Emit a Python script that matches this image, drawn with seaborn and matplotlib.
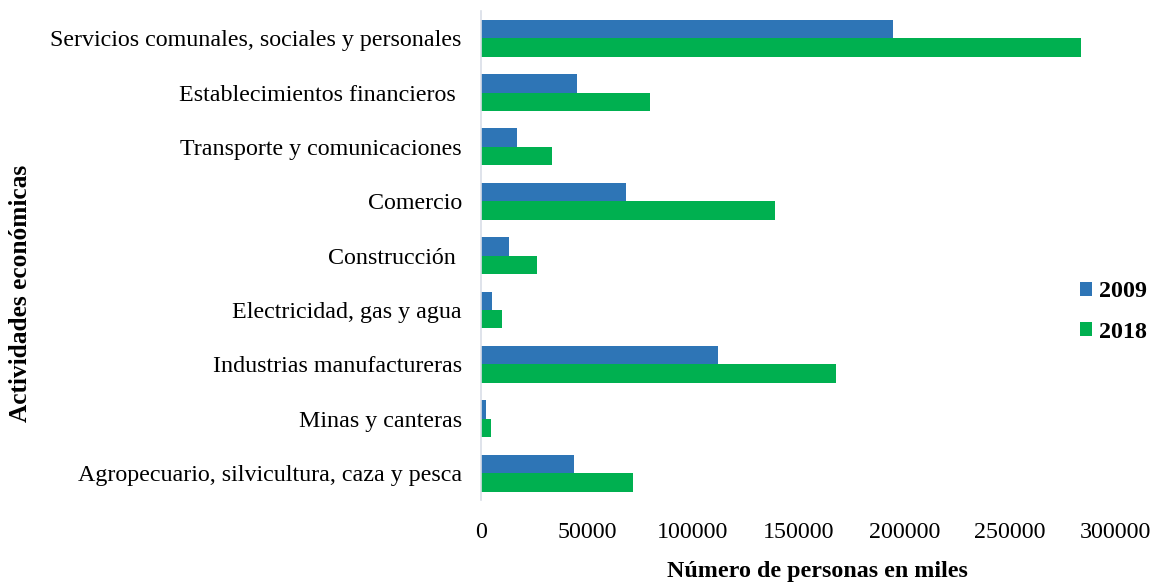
import matplotlib
matplotlib.use("Agg")
import matplotlib.pyplot as plt
import seaborn as sns
import pandas as pd

actividades = [
    "Servicios comunales, sociales y personales",
    "Establecimientos financieros ",
    "Transporte y comunicaciones",
    "Comercio",
    "Construcción ",
    "Electricidad, gas y agua",
    "Industrias manufactureras",
    "Minas y canteras",
    "Agropecuario, silvicultura, caza y pesca",
]
valores_2009 = [194700, 45400, 16800, 68400, 12900, 5300, 112100, 2200, 44000]
valores_2018 = [283500, 79700, 33500, 138700, 26400, 10000, 167900, 4700, 71700]
xticks = [0, 50000, 100000, 150000, 200000, 250000, 300000]

df = pd.DataFrame({
    "actividad": actividades * 2,
    "valor": valores_2009 + valores_2018,
    "anio": ["2009"] * len(actividades) + ["2018"] * len(actividades),
})

sns.set_style("white")
plt.rcParams["font.family"] = ["Liberation Serif", "DejaVu Serif"]
plt.rcParams["text.color"] = "black"
plt.rcParams["xtick.color"] = "black"
plt.rcParams["ytick.color"] = "black"

fs = 17.3
fig, ax = plt.subplots(figsize=(11.54, 5.83), dpi=100)
fig.subplots_adjust(left=0.417, right=0.967, top=0.981, bottom=0.142)

sns.barplot(data=df, y="actividad", x="valor", hue="anio", order=actividades,
            palette={"2009": "#2E75B6", "2018": "#00B050"},
            width=0.68, orient="h", ax=ax, saturation=1, linewidth=0)

ax.set_xlim(0, 300000)
ax.set_xticks(xticks)
ax.set_xticklabels([str(t) for t in xticks], fontsize=fs)
ax.tick_params(axis="y", labelsize=fs, length=0, pad=14)
ax.tick_params(axis="x", length=0, pad=16)
for s in ["top", "right", "bottom"]:
    ax.spines[s].set_visible(False)
ax.spines["left"].set_color("#D9DEE8")
ax.spines["left"].set_linewidth(1.2)

ax.set_ylabel("")
ax.set_xlabel("Número de personas en miles", fontsize=fs, fontweight="bold",
              color="black")
ax.xaxis.set_label_coords(0.53, -0.125)
fig.text(0.018, 0.497, "Actividades económicas", rotation=90, fontsize=18.3,
         fontweight="bold", ha="center", va="center")

leg = ax.legend(loc="center left", bbox_to_anchor=(1080 / 1154, 0.465),
                bbox_transform=fig.transFigure, frameon=False,
                fontsize=fs, handlelength=0.5, handleheight=0.5,
                labelspacing=0.8, handletextpad=0.3,
                borderpad=0, borderaxespad=0)
for t in leg.get_texts():
    t.set_fontweight("bold")

fig.savefig("out.png", dpi=100)
